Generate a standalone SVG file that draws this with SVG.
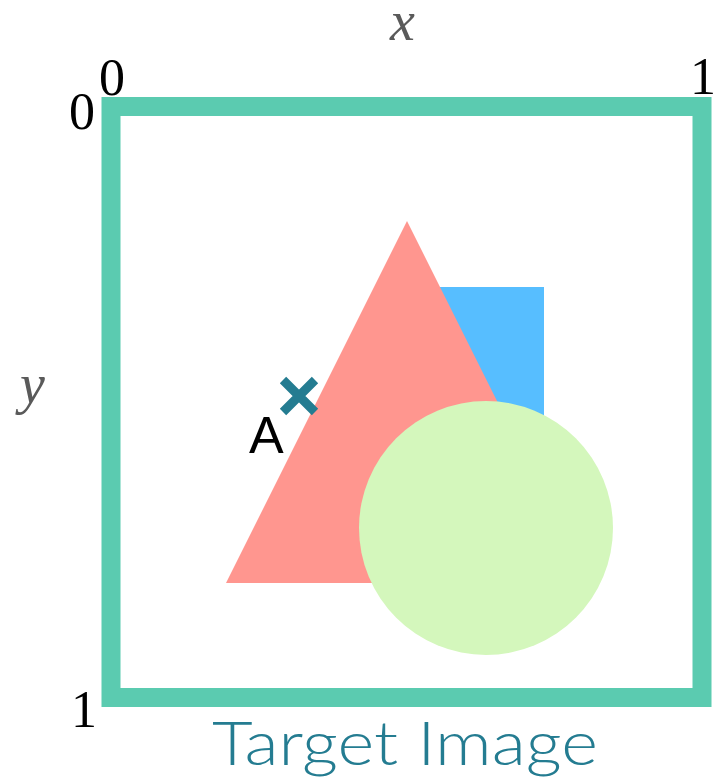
<svg xmlns="http://www.w3.org/2000/svg" width="715" height="783" viewBox="0 0 715 783">
<style>
.num{font-family:"Liberation Serif",serif;font-size:52px;fill:#000}
.ax{font-family:"Liberation Serif",serif;font-style:italic;font-size:56px;fill:#5a5a5a}
</style>
<rect width="715" height="783" fill="#fff"/>
<g id="frame"><rect x="111" y="106.5" width="591" height="591" fill="none" stroke="#5BCBB0" stroke-width="19"/></g>
<g id="square"><rect x="420" y="287" width="124" height="200" fill="#57BEFF"/></g>
<g id="triangle"><polygon points="407,221 226,583 588,583" fill="#FF968F"/></g>
<g id="circle"><circle cx="486" cy="528" r="127" fill="#D4F7BC"/></g>
<g id="pointA">
<path d="M283,380 L315,412 M315,380 L283,412" stroke="#247C91" stroke-width="9" fill="none"/>
<text x="249" y="453" font-family="Liberation Sans, sans-serif" font-size="52" fill="#000">A</text>
</g>
<g id="labels">
<text class="ax" x="390" y="40">x</text>
<text class="ax" x="20" y="403">y</text>
<text class="num" x="99" y="95">0</text>
<text class="num" x="69" y="129">0</text>
<text class="num" x="690" y="94">1</text>
<text class="num" x="71" y="727">1</text>
<text x="212" y="765" font-family="Lato, 'Liberation Sans', sans-serif" font-weight="300" font-size="62" fill="#247C91" textLength="386" lengthAdjust="spacingAndGlyphs">Target Image</text>
</g>
</svg>
